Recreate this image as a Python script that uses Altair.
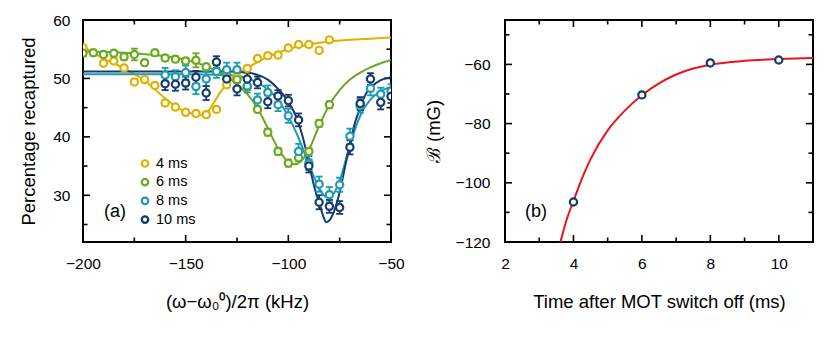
import altair as alt
import pandas as pd

FONT = "Liberation Sans"

# ---------------- Panel (a): recapture spectra ----------------
series_labels = ["4 ms", "6 ms", "8 ms", "10 ms"]
series_colors = ["#E2B000", "#6BAA1E", "#1E9AB3", "#153A6E"]

# 4 ms (yellow)
y4_x = [-200, -190, -185, -180, -175, -170, -165, -160, -155, -150, -145, -140, -135,
        -130, -125, -120, -115, -110, -105, -100, -95, -90, -85, -80]
y4_y = [55.3, 52.6, 53.0, 51.8, 49.4, 49.8, 48.8, 45.8, 45.1, 44.2, 44.0, 43.8, 44.7,
        48.9, 50.3, 51.7, 53.4, 53.9, 54.0, 55.2, 55.8, 55.8, 54.8, 56.6]
y4_e = [0.4] * 24

# 6 ms (green)
y6_x = [-200, -195, -190, -185, -180, -175, -170, -165, -160, -155, -150, -145, -140,
        -135, -130, -125, -120, -115, -110, -105, -100, -95, -90, -85, -80]
y6_y = [54.3, 54.4, 54.1, 54.3, 53.7, 54.1, 52.7, 54.4, 53.5, 53.3, 53.0, 53.1, 52.0,
        51.2, 50.6, 49.8, 48.5, 44.7, 40.8, 37.5, 35.5, 36.4, 37.5, 42.3, 45.5]
y6_e = [0.5, 0.5, 0.5, 0.5, 0.5, 1.0, 0.5, 0.5, 0.5, 0.5, 0.5, 1.2, 0.5,
        0.5, 0.5, 0.5, 0.5, 0.5, 0.6, 0.6, 0.6, 0.6, 0.6, 0.6, 0.6]

# 8 ms (teal)
y8_x = [-160, -155, -150, -145, -140, -135, -130, -125, -120, -115, -110, -105, -100,
        -95, -90, -85, -80, -75, -70, -65, -60, -55, -50]
y8_y = [50.6, 50.3, 51.0, 48.6, 49.9, 51.2, 51.5, 51.5, 48.7, 46.3, 47.6, 45.5, 43.6,
        37.5, 35.5, 31.9, 30.1, 31.8, 40.1, 45.3, 48.3, 47.3, 47.8]
y8_e = [1.2, 1.1, 1.2, 1.3, 1.2, 1.1, 1.2, 1.2, 1.1, 1.1, 1.2, 1.1, 1.2,
        1.3, 1.2, 1.3, 1.3, 1.2, 1.3, 1.2, 1.2, 1.1, 1.2]

# 10 ms (navy)
y10_x = [-160, -155, -150, -145, -140, -135, -130, -125, -120, -115, -110, -105, -100,
         -95, -90, -85, -80, -75, -70, -65, -60, -55, -50]
y10_y = [49.1, 49.0, 49.2, 50.2, 47.5, 52.8, 49.9, 48.2, 49.9, 49.3, 46.0, 47.0, 46.2,
         42.9, 35.0, 28.8, 28.1, 27.9, 38.2, 45.7, 49.9, 45.9, 46.9]
y10_e = [1.1, 1.1, 1.1, 1.1, 1.2, 1.0, 1.1, 1.1, 1.1, 1.0, 1.1, 1.0, 1.0,
         1.1, 1.1, 1.2, 1.1, 1.1, 1.2, 1.1, 1.0, 1.2, 1.1]

# fitted curves
f4_x = [-200, -190, -180, -170, -160, -152, -146, -142, -139, -136, -133, -130, -125,
        -120, -115, -110, -105, -100, -90, -80, -70, -60, -50]
f4_y = [55.4, 53.4, 51.7, 49.6, 46.6, 44.6, 43.9, 43.7, 44.4, 46.0, 47.7, 49.0, 50.6,
        51.8, 52.8, 53.7, 54.4, 55.0, 55.8, 56.3, 56.6, 56.8, 57.0]
f6_x = [-200, -180, -160, -150, -140, -135, -130, -125, -120, -115, -110, -105, -100,
        -97, -94, -90, -85, -80, -75, -70, -65, -60, -55, -50]
f6_y = [54.6, 54.4, 53.8, 53.2, 52.1, 51.3, 50.3, 49.0, 47.3, 44.9, 41.5, 38.0, 35.7,
        35.3, 35.8, 37.8, 41.9, 45.5, 48.0, 49.8, 51.0, 51.9, 52.6, 53.1]
f8_x = [-200, -150, -130, -125, -120, -115, -110, -105, -100, -95, -90, -85, -82, -80,
        -77, -75, -70, -65, -60, -55, -50]
f8_y = [50.7, 50.7, 50.6, 50.4, 50.0, 49.3, 48.1, 46.3, 43.5, 39.8, 35.3, 31.3, 29.8, 29.7,
        30.8, 32.5, 38.6, 43.6, 46.4, 47.8, 48.6]
f10_x = [-200, -130, -120, -115, -110, -105, -100, -96, -93, -90, -87, -85, -83, -81.5,
         -80, -78, -75, -72, -70, -68, -65, -62, -60, -55, -50]
f10_y = [51.2, 51.2, 51.0, 50.6, 49.8, 48.2, 46.0, 43.3, 40.0, 35.5, 31.0, 28.8, 26.4, 25.4,
         25.7, 27.0, 30.5, 35.5, 38.5, 41.8, 45.0, 47.5, 48.4, 49.7, 50.2]

a_x_dom = [-200, -50]
a_y_dom = [22, 60]
a_x_major = [-200, -150, -100, -50]
a_x_minor = [-175, -125, -75]
a_y_major = [30, 40, 50, 60]
a_y_minor = [25, 35, 45, 55]

# ---------------- Panel (b): field vs time ----------------
b_t = [4, 6, 8, 10]
b_B = [-106.5, -70.3, -59.5, -58.5]
bf_t = [3.62, 3.8, 4.0, 4.25, 4.5, 5.0, 5.5, 6.0, 6.5, 7.0, 7.5, 8.0, 9.0, 10.0, 11.0]
bf_B = [-120.0, -112.5, -106.2, -98.5, -92.0, -82.3, -75.6, -70.4, -66.4, -63.4, -61.4,
        -60.1, -58.8, -58.2, -57.8]
b_x_dom = [2, 11]
b_y_dom = [-120, -45]
b_x_major = [2, 4, 6, 8, 10]
b_x_minor = [3, 5, 7, 9, 11]
b_y_major = [-120, -100, -80, -60]
b_y_minor = [-110, -90, -70, -50]

W, H = 308, 222
MAJ, MIN = 7, 4.5
BLACK = alt.value("black")


def pts(label, xs, ys, es):
    d = pd.DataFrame({"x": xs, "y": ys, "err": es})
    d["series"] = label
    d["lo"] = d["y"] - d["err"]
    d["hi"] = d["y"] + d["err"]
    return d


def fit(label, xs, ys):
    d = pd.DataFrame({"x": xs, "y": ys})
    d["series"] = label
    return d


pts_a = pd.concat([pts("4 ms", y4_x, y4_y, y4_e), pts("6 ms", y6_x, y6_y, y6_e),
                   pts("8 ms", y8_x, y8_y, y8_e), pts("10 ms", y10_x, y10_y, y10_e)],
                  ignore_index=True)
pts_a["order"] = range(len(pts_a))
fit_a = pd.concat([fit("4 ms", f4_x, f4_y), fit("6 ms", f6_x, f6_y),
                   fit("8 ms", f8_x, f8_y), fit("10 ms", f10_x, f10_y)], ignore_index=True)


def mk_axis(vals, title, lpad, tpad):
    return alt.Axis(values=vals, title=title, labelPadding=lpad, titlePadding=tpad,
                    labelFlush=False, domain=False, ticks=False, grid=False,
                    labelFont=FONT, titleFont=FONT, labelFontSize=15.5, titleFontSize=18.5,
                    titleFontWeight="normal", labelColor="black", titleColor="black")


def frame_and_ticks(xs, ys, xax, yax, xdom, ydom, x_major, x_minor, y_major, y_minor):
    """Plot frame plus inward ticks on all four sides, drawn on the data scales."""
    layers = []
    vd = pd.DataFrame({"fx": xdom, "fy": [ydom[0]] * 2, "fy2": [ydom[1]] * 2})
    layers.append(alt.Chart(vd).mark_rule(strokeWidth=2).encode(
        x=alt.X("fx:Q", scale=xs, axis=xax), y=alt.Y("fy:Q", scale=ys, axis=yax), y2="fy2:Q",
        color=BLACK))
    hd = pd.DataFrame({"fy": ydom, "fx": [xdom[0]] * 2, "fx2": [xdom[1]] * 2})
    layers.append(alt.Chart(hd).mark_rule(strokeWidth=2).encode(
        y=alt.Y("fy:Q", scale=ys, axis=yax), x=alt.X("fx:Q", scale=xs, axis=xax), x2="fx2:Q",
        color=BLACK))
    for vals, ln in ((y_major, MAJ), (y_minor, MIN)):
        for edge, off in ((xdom[0], ln / 2), (xdom[1], -ln / 2)):
            d = pd.DataFrame({"ty": vals, "tx": [edge] * len(vals)})
            layers.append(alt.Chart(d).mark_tick(orient="horizontal", size=ln, thickness=1.6,
                                                 opacity=1, xOffset=off).encode(
                x=alt.X("tx:Q", scale=xs, axis=xax), y=alt.Y("ty:Q", scale=ys, axis=yax),
                color=BLACK))
    for vals, ln in ((x_major, MAJ), (x_minor, MIN)):
        for edge, off in ((ydom[0], -ln / 2), (ydom[1], ln / 2)):
            d = pd.DataFrame({"tx": vals, "ty": [edge] * len(vals)})
            layers.append(alt.Chart(d).mark_tick(orient="vertical", size=ln, thickness=1.6,
                                                 opacity=1, yOffset=off).encode(
                x=alt.X("tx:Q", scale=xs, axis=xax), y=alt.Y("ty:Q", scale=ys, axis=yax),
                color=BLACK))
    return layers


# ----- panel (a) -----
xa = alt.Scale(domain=a_x_dom, nice=False, zero=False, padding=0)
ya = alt.Scale(domain=a_y_dom, nice=False, zero=False, padding=0)
xa_axis = mk_axis(a_x_major, "(ω−ω₀⁰)/2π (kHz)", 14, 21)
ya_axis = mk_axis(a_y_major, "Percentage recaptured", 13, 14)
col_scale = alt.Scale(domain=series_labels, range=series_colors)
col = alt.Color("series:N", scale=col_scale, legend=None)
X = alt.X("x:Q", scale=xa, axis=xa_axis)

curves_a = alt.Chart(fit_a).mark_line(strokeWidth=2, interpolate="monotone", clip=True).encode(
    x=X, y=alt.Y("y:Q", scale=ya, axis=ya_axis), color=col, detail="series:N",
)
ebar_a = alt.Chart(pts_a).mark_rule(strokeWidth=1.8, clip=True).encode(
    x=X, y=alt.Y("lo:Q", scale=ya, axis=ya_axis), y2="hi:Q", color=col,
)
caplo_a = alt.Chart(pts_a).mark_tick(orient="horizontal", size=7, thickness=1.8, clip=True,
                                     opacity=1).encode(
    x=X, y=alt.Y("lo:Q", scale=ya, axis=ya_axis), color=col,
)
caphi_a = alt.Chart(pts_a).mark_tick(orient="horizontal", size=7, thickness=1.8, clip=True,
                                     opacity=1).encode(
    x=X, y=alt.Y("hi:Q", scale=ya, axis=ya_axis), color=col,
)
points_a = alt.Chart(pts_a).mark_point(shape="circle", filled=False, fill="white", size=52,
                                       strokeWidth=2.2, opacity=1, clip=True).encode(
    x=X, y=alt.Y("y:Q", scale=ya, axis=ya_axis), order="order:Q", color=col,
)

# hand-made legend (one row per series)
leg_layers = []
for i, (lab, c) in enumerate(zip(series_labels, series_colors)):
    d = pd.DataFrame({"label": [lab]})
    yy = 143.5 + i * 18.7
    leg_layers.append(alt.Chart(d).mark_point(shape="circle", filled=False, fill="white",
                                              size=42, strokeWidth=2.2, opacity=1, color=c)
                      .encode(x=alt.value(62), y=alt.value(yy)))
    leg_layers.append(alt.Chart(d).mark_text(fontSize=14.5, font=FONT, align="left",
                                             baseline="middle", color="black")
                      .encode(text="label:N", x=alt.value(73), y=alt.value(yy)))

label_a = alt.Chart(pd.DataFrame({"t": ["(a)"]})).mark_text(
    fontSize=18, font=FONT, align="center", baseline="middle", color="black").encode(
    text="t:N", x=alt.value(32), y=alt.value(192))

panel_a = alt.layer(*frame_and_ticks(xa, ya, xa_axis, ya_axis, a_x_dom, a_y_dom,
                                     a_x_major, a_x_minor, a_y_major, a_y_minor),
                    curves_a, ebar_a, caplo_a, caphi_a, points_a, label_a, *leg_layers
                    ).properties(width=W, height=H)

# ----- panel (b) -----
xb = alt.Scale(domain=b_x_dom, nice=False, zero=False, padding=0)
yb = alt.Scale(domain=b_y_dom, nice=False, zero=False, padding=0)
xb_axis = mk_axis(b_x_major, "Time after MOT switch off (ms)", 14, 21)
yb_axis = mk_axis(b_y_major, "ℬ (mG)", 15, 12)

curve_b = alt.Chart(pd.DataFrame({"x": bf_t, "y": bf_B})).mark_line(
    color="#E8141B", strokeWidth=2, interpolate="monotone", clip=True).encode(
    x=alt.X("x:Q", scale=xb, axis=xb_axis),
    y=alt.Y("y:Q", scale=yb, axis=yb_axis),
)
points_b = alt.Chart(pd.DataFrame({"x": b_t, "y": b_B})).mark_point(
    shape="circle", filled=False, fill="white", size=52, strokeWidth=2.2, opacity=1,
    color="#153A6E").encode(
    x=alt.X("x:Q", scale=xb, axis=xb_axis),
    y=alt.Y("y:Q", scale=yb, axis=yb_axis),
)
label_b = alt.Chart(pd.DataFrame({"t": ["(b)"]})).mark_text(
    fontSize=18, font=FONT, align="center", baseline="middle", color="black").encode(
    text="t:N", x=alt.value(31), y=alt.value(192))

panel_b = alt.layer(*frame_and_ticks(xb, yb, xb_axis, yb_axis, b_x_dom, b_y_dom,
                                     b_x_major, b_x_minor, b_y_major, b_y_minor),
                    curve_b, points_b, label_b
                    ).properties(width=W, height=H)

chart = alt.hconcat(panel_a, panel_b, spacing=17).properties(
    padding={"left": 10, "top": 4, "right": 5, "bottom": 5}
).configure_view(stroke="black", strokeWidth=2)

chart.save("out.html", embed_options={"renderer": "svg", "actions": False})
